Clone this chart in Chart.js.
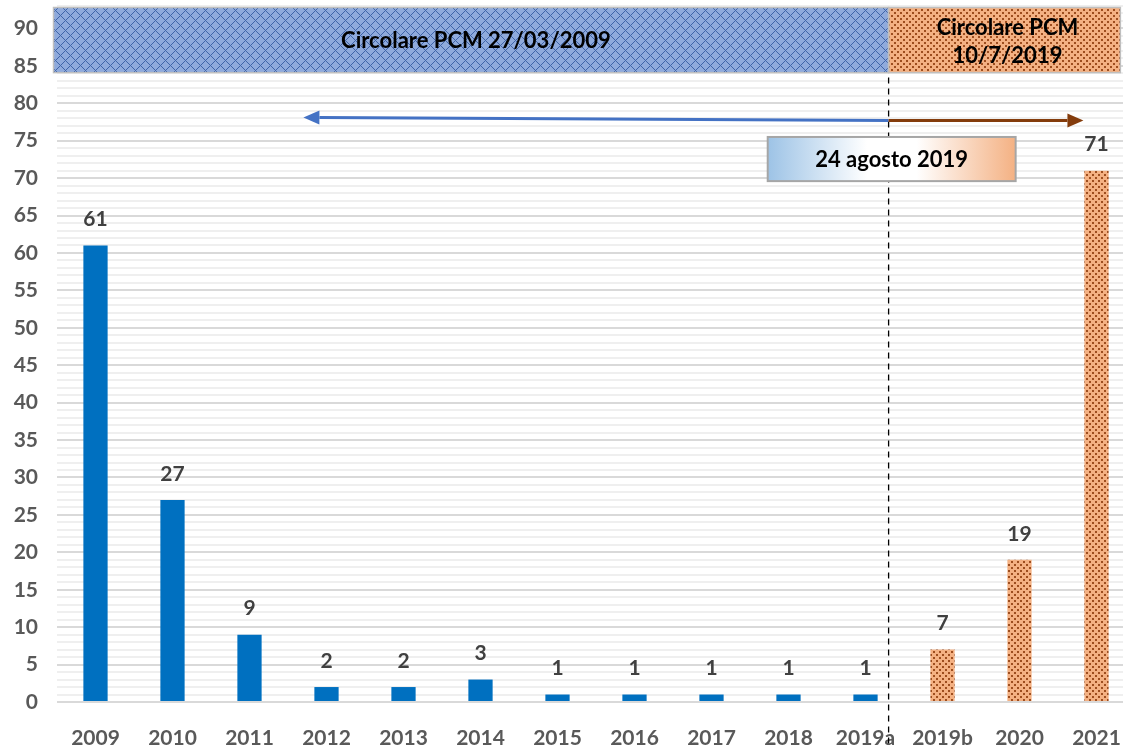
<!DOCTYPE html>
<html>
<head>
<meta charset="utf-8">
<script src="https://cdn.jsdelivr.net/npm/chart.js@4/dist/chart.umd.min.js"></script>
<style>
  html, body { margin: 0; padding: 0; background: #fff; overflow: hidden; }
  #contenitore { width: 1135px; height: 745px; }
</style>
</head>
<body>
<div id="contenitore"><canvas id="grafico" width="1135" height="745"></canvas></div>
<script>
// dati del grafico
const anni = ['2009', '2010', '2011', '2012', '2013', '2014', '2015', '2016', '2017', '2018', '2019a', '2019b', '2020', '2021'];
const valori = [61, 27, 9, 2, 2, 3, 1, 1, 1, 1, 1, 7, 19, 71];
const primoNuovo = 11; // da 2019b in poi: nuova circolare
const yMax = 93;
const passoEtichetteY = 5;

// testi delle note
const testoVecchia = 'Circolare PCM 27/03/2009';
const testoNuova = ['Circolare PCM', '10/7/2019'];
const testoData = '24 agosto 2019';

// posizioni delle note (indice categoria, valore asse y)
const fascia = { sinistra: -0.545, divisione: 10.3, destra: 13.31, alto: 92.8, basso: 84.1 };
const frecciaBlu = { da: 10.3, a: 2.7, yDa: 77.7, yA: 78.1 };
const frecciaMarrone = { da: 10.3, a: 12.83, y: 77.7 };
const riquadro = { sx: 8.73, dx: 11.95, alto: 75.5, basso: 69.6 };

const FONT = "Lato, 'Open Sans', sans-serif";
const BLU = '#0070C0';
const GRIGIO = '#595959';

function patternPuntini(ctx) {
    const c = document.createElement('canvas');
    c.width = 6; c.height = 6;
    const g = c.getContext('2d');
    g.fillStyle = '#F4B183';
    g.fillRect(0, 0, 6, 6);
    g.fillStyle = '#9E4E1F';
    g.fillRect(0, 0, 2, 2);
    g.fillRect(3, 3, 2, 2);
    return ctx.createPattern(c, 'repeat');
}

function patternRombi(ctx) {
    // rombi disegnati a pixel, come il motivo di Office
    const c = document.createElement('canvas');
    c.width = 10; c.height = 10;
    const g = c.getContext('2d');
    g.fillStyle = '#8FAADC';
    g.fillRect(0, 0, 10, 10);
    g.fillStyle = '#3F64A8';
    for (let k = 0; k < 5; k++) {
        g.fillRect(5 + k, k, 1, 1);
        g.fillRect(5 - k, k, 1, 1);
        g.fillRect(k, 5 + k, 1, 1);
        g.fillRect(10 - k, 5 + k, 1, 1);
    }
    return ctx.createPattern(c, 'repeat');
}

const ctx = document.getElementById('grafico').getContext('2d');
const puntini = patternPuntini(ctx);
const rombi = patternRombi(ctx);

const coloriBarre = valori.map((v, i) => i >= primoNuovo ? puntini : BLU);

function freccia(c, x1, y1, x2, y2, colore) {
    const ang = Math.atan2(y2 - y1, x2 - x1);
    const lung = 16, mezza = 7;
    c.save();
    c.strokeStyle = colore;
    c.fillStyle = colore;
    c.lineWidth = 3;
    c.beginPath();
    c.moveTo(x1, y1);
    c.lineTo(x2 - Math.cos(ang) * lung, y2 - Math.sin(ang) * lung);
    c.stroke();
    c.beginPath();
    c.moveTo(x2, y2);
    c.lineTo(x2 - Math.cos(ang) * lung - Math.sin(ang) * mezza, y2 - Math.sin(ang) * lung + Math.cos(ang) * mezza);
    c.lineTo(x2 - Math.cos(ang) * lung + Math.sin(ang) * mezza, y2 - Math.sin(ang) * lung - Math.cos(ang) * mezza);
    c.closePath();
    c.fill();
    c.restore();
}

const note = {
    id: 'note',
    afterDatasetsDraw(chart) {
        const c = chart.ctx;
        const xs = chart.scales.x, ys = chart.scales.y;
        const x0 = xs.getPixelForValue(0);
        const passo = xs.getPixelForValue(1) - x0;
        const px = i => x0 + i * passo;
        const py = v => ys.getPixelForValue(v);

        // etichette sopra le barre
        const meta = chart.getDatasetMeta(0);
        c.save();
        c.font = 'bold 21px ' + FONT;
        c.fillStyle = '#404040';
        c.textAlign = 'center';
        c.textBaseline = 'middle';
        meta.data.forEach((b, i) => {
            c.fillText(String(valori[i]), b.x, b.y - 26);
        });
        c.restore();

        // fasce in alto
        const yT = py(fascia.alto), yB = py(fascia.basso);
        const xL = px(fascia.sinistra), xD = px(fascia.divisione), xR = px(fascia.destra);
        c.save();
        c.fillStyle = rombi;
        c.fillRect(xL, yT, xD - xL, yB - yT);
        c.fillStyle = puntini;
        c.fillRect(xD, yT, xR - xD, yB - yT);
        c.strokeStyle = '#BFBFBF';
        c.lineWidth = 1.5;
        c.strokeRect(xL, yT, xD - xL, yB - yT);
        c.strokeRect(xD, yT, xR - xD, yB - yT);
        c.fillStyle = '#000';
        c.textAlign = 'center';
        c.textBaseline = 'middle';
        c.font = 'bold 22px ' + FONT;
        c.fillText(testoVecchia, px(4.94), (yT + yB) / 2 + 1);
        c.fillText(testoNuova[0], (xD + xR) / 2 + 3, yT + 20);
        c.fillText(testoNuova[1], (xD + xR) / 2 + 3, yT + 48);
        c.restore();

        // linea tratteggiata
        c.save();
        c.strokeStyle = '#000';
        c.lineWidth = 1.3;
        c.setLineDash([6, 5]);
        c.beginPath();
        c.moveTo(xD, yB + 5);
        c.lineTo(xD, chart.height);
        c.stroke();
        c.restore();

        // frecce
        freccia(c, px(frecciaBlu.da), py(frecciaBlu.yDa), px(frecciaBlu.a), py(frecciaBlu.yA), '#4472C4');
        freccia(c, px(frecciaMarrone.da), py(frecciaMarrone.y), px(frecciaMarrone.a), py(frecciaMarrone.y), '#843C0C');

        // riquadro con la data
        const rx = px(riquadro.sx), rw = px(riquadro.dx) - rx;
        const ry = py(riquadro.alto), rh = py(riquadro.basso) - ry;
        const grad = c.createLinearGradient(rx, 0, rx + rw, 0);
        grad.addColorStop(0, '#9DC3E6');
        grad.addColorStop(0.4, '#FFFFFF');
        grad.addColorStop(0.6, '#FFFFFF');
        grad.addColorStop(1, '#F4B183');
        c.save();
        c.fillStyle = grad;
        c.fillRect(rx, ry, rw, rh);
        c.strokeStyle = '#A6A6A6';
        c.lineWidth = 2;
        c.strokeRect(rx, ry, rw, rh);
        c.fillStyle = '#000';
        c.font = 'bold 22px ' + FONT;
        c.textAlign = 'center';
        c.textBaseline = 'middle';
        c.fillText(testoData, rx + rw / 2, ry + rh / 2 + 1);
        c.restore();
    }
};

new Chart(ctx, {
    type: 'bar',
    data: {
        labels: anni,
        datasets: [{
            data: valori,
            backgroundColor: coloriBarre,
            borderWidth: 0,
            barPercentage: 0.315,
            categoryPercentage: 1
        }]
    },
    options: {
        responsive: false,
        animation: false,
        layout: { padding: { top: 6, right: 0, left: 0, bottom: 0 } },
        plugins: {
            legend: { display: false },
            tooltip: { enabled: false }
        },
        scales: {
            x: {
                grid: { display: false },
                border: { display: false },
                ticks: {
                    color: GRIGIO,
                    font: { family: FONT, size: 21, weight: 'bold' },
                    padding: 16,
                    autoSkip: false,
                    maxRotation: 0
                },
                afterFit: s => { s.height = 43; s.paddingLeft = 0; s.paddingRight = 0; }
            },
            y: {
                min: 0,
                max: yMax,
                border: { display: false },
                grid: {
                    drawTicks: false,
                    lineWidth: 2,
                    color: c => (c.tick && c.tick.value % passoEtichetteY === 0) ? '#D9D9D9' : '#EFEFEF'
                },
                ticks: {
                    stepSize: 1,
                    autoSkip: false,
                    color: GRIGIO,
                    font: { family: FONT, size: 21, weight: 'bold' },
                    padding: 19,
                    callback: v => (v % passoEtichetteY === 0) ? v : ''
                },
                afterFit: s => { s.width = 57; s.paddingTop = 0; s.paddingBottom = 0; }
            }
        }
    },
    plugins: [note]
});
</script>
</body>
</html>
